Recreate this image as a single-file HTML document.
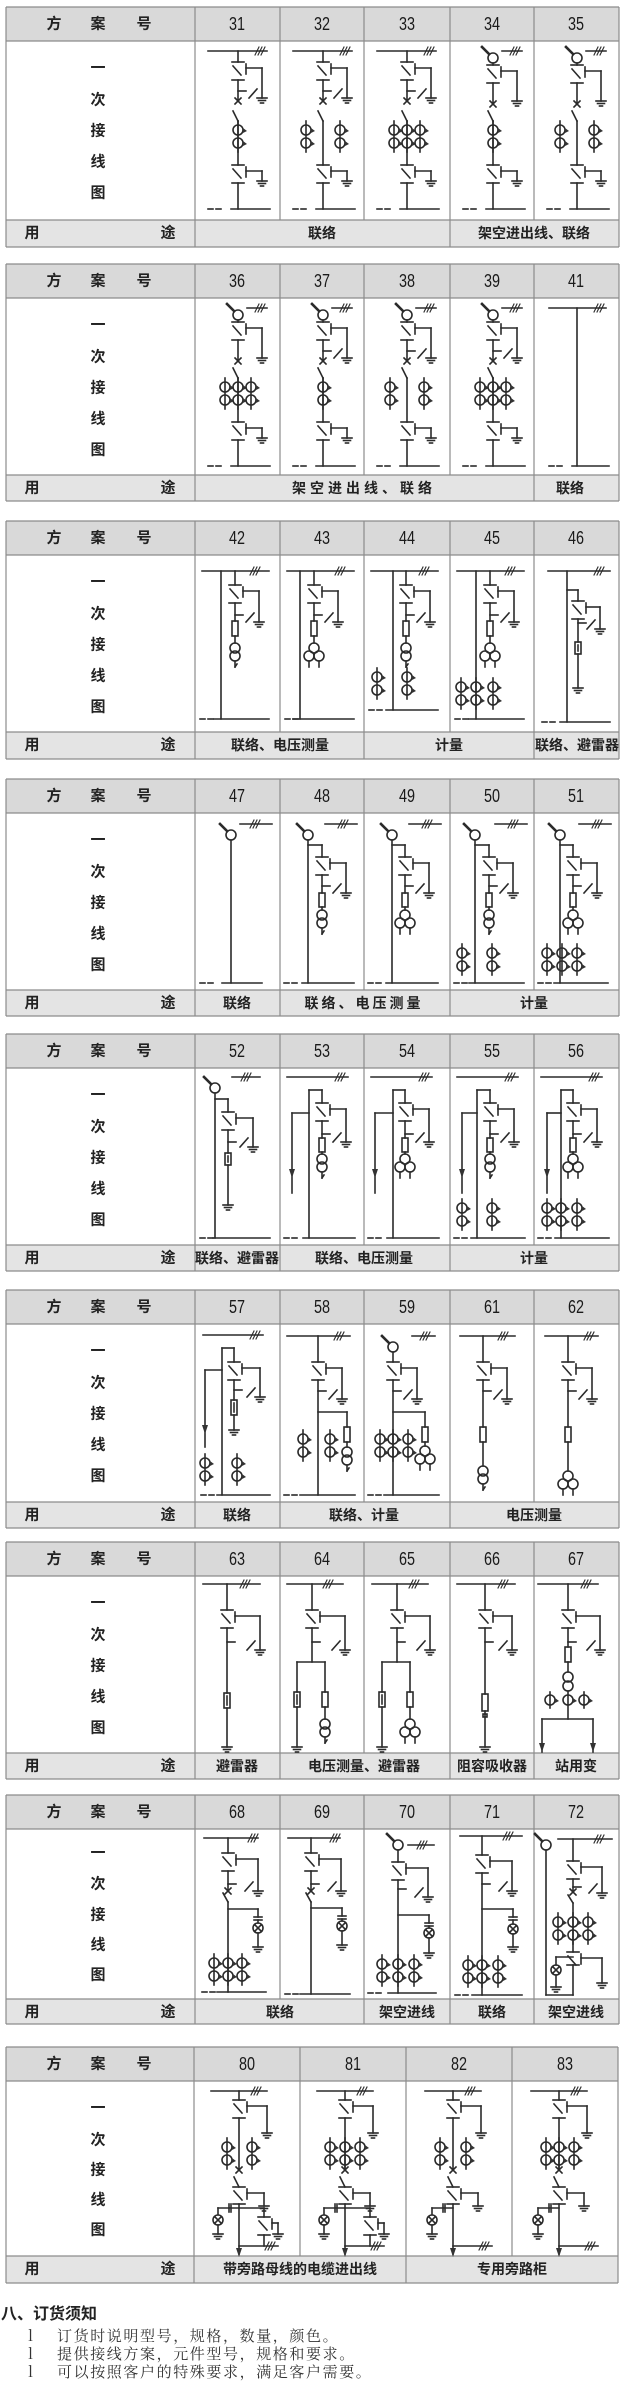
<!DOCTYPE html>
<html><head><meta charset="utf-8"><style>
body{margin:0;width:624px;height:2383px;position:relative;background:#fff;overflow:hidden;font-family:"Liberation Sans","Noto Sans CJK SC",sans-serif;}
.tb{position:absolute;left:0;width:624px;height:240px;z-index:1}
.t{position:absolute;transform:translate(-50%,-50%);white-space:nowrap;color:#222;font-weight:bold;font-size:15px;line-height:1}
.n{font-family:"Liberation Sans",sans-serif;font-size:18px;font-weight:normal;transform:translate(-50%,-50%) scaleX(.8);color:#1a1a1a}
.u{font-size:14px}
svg{position:absolute;left:0;top:0}
#bg{z-index:0}#dg{z-index:2}
.ft{position:absolute;font-family:"Noto Serif CJK SC","Noto Sans CJK SC",serif;color:#333;font-size:15px;letter-spacing:1.6px;line-height:1;white-space:nowrap}
</style></head><body>
<svg id="bg" width="624" height="2383"></svg>

<div class="tb" style="top:7px">
<b class="t" style="left:54px;top:17px">方</b><b class="t" style="left:98px;top:17px">案</b><b class="t" style="left:144px;top:17px">号</b>
<b class="t n" style="left:237px;top:17px">31</b><b class="t n" style="left:322px;top:17px">32</b><b class="t n" style="left:407px;top:17px">33</b><b class="t n" style="left:492px;top:17px">34</b><b class="t n" style="left:576px;top:17px">35</b>
<b class="t" style="left:98px;top:61px">一</b><b class="t" style="left:98px;top:93px">次</b><b class="t" style="left:98px;top:124px">接</b><b class="t" style="left:98px;top:155px">线</b><b class="t" style="left:98px;top:186px">图</b>
<b class="t" style="left:32px;top:226px">用</b><b class="t" style="left:168px;top:226px">途</b>
<b class="t u" style="left:322px;top:226px">联络</b><b class="t u" style="left:534px;top:226px">架空进出线、联络</b>
</div>

<div class="tb" style="top:264px">
<b class="t" style="left:54px;top:17px">方</b><b class="t" style="left:98px;top:17px">案</b><b class="t" style="left:144px;top:17px">号</b>
<b class="t n" style="left:237px;top:17px">36</b><b class="t n" style="left:322px;top:17px">37</b><b class="t n" style="left:407px;top:17px">38</b><b class="t n" style="left:492px;top:17px">39</b><b class="t n" style="left:576px;top:17px">41</b>
<b class="t" style="left:98px;top:61px">一</b><b class="t" style="left:98px;top:93px">次</b><b class="t" style="left:98px;top:124px">接</b><b class="t" style="left:98px;top:155px">线</b><b class="t" style="left:98px;top:186px">图</b>
<b class="t" style="left:32px;top:224px">用</b><b class="t" style="left:168px;top:224px">途</b>
<b class="t u" style="left:364px;top:224px;letter-spacing:4px">架空进出线、联络</b><b class="t u" style="left:570px;top:224px">联络</b>
</div>

<div class="tb" style="top:521px">
<b class="t" style="left:54px;top:17px">方</b><b class="t" style="left:98px;top:17px">案</b><b class="t" style="left:144px;top:17px">号</b>
<b class="t n" style="left:237px;top:17px">42</b><b class="t n" style="left:322px;top:17px">43</b><b class="t n" style="left:407px;top:17px">44</b><b class="t n" style="left:492px;top:17px">45</b><b class="t n" style="left:576px;top:17px">46</b>
<b class="t" style="left:98px;top:61px">一</b><b class="t" style="left:98px;top:93px">次</b><b class="t" style="left:98px;top:124px">接</b><b class="t" style="left:98px;top:155px">线</b><b class="t" style="left:98px;top:186px">图</b>
<b class="t" style="left:32px;top:224px">用</b><b class="t" style="left:168px;top:224px">途</b>
<b class="t u" style="left:280px;top:224px">联络、电压测量</b><b class="t u" style="left:449px;top:224px">计量</b><b class="t u" style="left:577px;top:224px">联络、避雷器</b>
</div>

<div class="tb" style="top:779px">
<b class="t" style="left:54px;top:17px">方</b><b class="t" style="left:98px;top:17px">案</b><b class="t" style="left:144px;top:17px">号</b>
<b class="t n" style="left:237px;top:17px">47</b><b class="t n" style="left:322px;top:17px">48</b><b class="t n" style="left:407px;top:17px">49</b><b class="t n" style="left:492px;top:17px">50</b><b class="t n" style="left:576px;top:17px">51</b>
<b class="t" style="left:98px;top:61px">一</b><b class="t" style="left:98px;top:93px">次</b><b class="t" style="left:98px;top:124px">接</b><b class="t" style="left:98px;top:155px">线</b><b class="t" style="left:98px;top:186px">图</b>
<b class="t" style="left:32px;top:224px">用</b><b class="t" style="left:168px;top:224px">途</b>
<b class="t u" style="left:237px;top:224px">联络</b><b class="t u" style="left:364px;top:224px;letter-spacing:3px">联络、电压测量</b><b class="t u" style="left:534px;top:224px">计量</b>
</div>

<div class="tb" style="top:1034px">
<b class="t" style="left:54px;top:17px">方</b><b class="t" style="left:98px;top:17px">案</b><b class="t" style="left:144px;top:17px">号</b>
<b class="t n" style="left:237px;top:17px">52</b><b class="t n" style="left:322px;top:17px">53</b><b class="t n" style="left:407px;top:17px">54</b><b class="t n" style="left:492px;top:17px">55</b><b class="t n" style="left:576px;top:17px">56</b>
<b class="t" style="left:98px;top:61px">一</b><b class="t" style="left:98px;top:93px">次</b><b class="t" style="left:98px;top:124px">接</b><b class="t" style="left:98px;top:155px">线</b><b class="t" style="left:98px;top:186px">图</b>
<b class="t" style="left:32px;top:224px">用</b><b class="t" style="left:168px;top:224px">途</b>
<b class="t u" style="left:237px;top:224px">联络、避雷器</b><b class="t u" style="left:364px;top:224px">联络、电压测量</b><b class="t u" style="left:534px;top:224px">计量</b>
</div>

<div class="tb" style="top:1290px">
<b class="t" style="left:54px;top:17px">方</b><b class="t" style="left:98px;top:17px">案</b><b class="t" style="left:144px;top:17px">号</b>
<b class="t n" style="left:237px;top:17px">57</b><b class="t n" style="left:322px;top:17px">58</b><b class="t n" style="left:407px;top:17px">59</b><b class="t n" style="left:492px;top:17px">61</b><b class="t n" style="left:576px;top:17px">62</b>
<b class="t" style="left:98px;top:61px">一</b><b class="t" style="left:98px;top:93px">次</b><b class="t" style="left:98px;top:124px">接</b><b class="t" style="left:98px;top:155px">线</b><b class="t" style="left:98px;top:186px">图</b>
<b class="t" style="left:32px;top:225px">用</b><b class="t" style="left:168px;top:225px">途</b>
<b class="t u" style="left:237px;top:225px">联络</b><b class="t u" style="left:364px;top:225px">联络、计量</b><b class="t u" style="left:534px;top:225px">电压测量</b>
</div>

<div class="tb" style="top:1542px">
<b class="t" style="left:54px;top:17px">方</b><b class="t" style="left:98px;top:17px">案</b><b class="t" style="left:144px;top:17px">号</b>
<b class="t n" style="left:237px;top:17px">63</b><b class="t n" style="left:322px;top:17px">64</b><b class="t n" style="left:407px;top:17px">65</b><b class="t n" style="left:492px;top:17px">66</b><b class="t n" style="left:576px;top:17px">67</b>
<b class="t" style="left:98px;top:61px">一</b><b class="t" style="left:98px;top:93px">次</b><b class="t" style="left:98px;top:124px">接</b><b class="t" style="left:98px;top:155px">线</b><b class="t" style="left:98px;top:186px">图</b>
<b class="t" style="left:32px;top:224px">用</b><b class="t" style="left:168px;top:224px">途</b>
<b class="t u" style="left:237px;top:224px">避雷器</b><b class="t u" style="left:364px;top:224px">电压测量、避雷器</b><b class="t u" style="left:492px;top:224px">阻容吸收器</b><b class="t u" style="left:576px;top:224px">站用变</b>
</div>

<div class="tb" style="top:1795px">
<b class="t" style="left:54px;top:17px">方</b><b class="t" style="left:98px;top:17px">案</b><b class="t" style="left:144px;top:17px">号</b>
<b class="t n" style="left:237px;top:17px">68</b><b class="t n" style="left:322px;top:17px">69</b><b class="t n" style="left:407px;top:17px">70</b><b class="t n" style="left:492px;top:17px">71</b><b class="t n" style="left:576px;top:17px">72</b>
<b class="t" style="left:98px;top:58px">一</b><b class="t" style="left:98px;top:89px">次</b><b class="t" style="left:98px;top:120px">接</b><b class="t" style="left:98px;top:150px">线</b><b class="t" style="left:98px;top:180px">图</b>
<b class="t" style="left:32px;top:217px">用</b><b class="t" style="left:168px;top:217px">途</b>
<b class="t u" style="left:280px;top:217px">联络</b><b class="t u" style="left:407px;top:217px">架空进线</b><b class="t u" style="left:492px;top:217px">联络</b><b class="t u" style="left:576px;top:217px">架空进线</b>
</div>

<div class="tb" style="top:2047px">
<b class="t" style="left:54px;top:17px">方</b><b class="t" style="left:98px;top:17px">案</b><b class="t" style="left:144px;top:17px">号</b>
<b class="t n" style="left:247px;top:17px">80</b><b class="t n" style="left:353px;top:17px">81</b><b class="t n" style="left:459px;top:17px">82</b><b class="t n" style="left:565px;top:17px">83</b>
<b class="t" style="left:98px;top:61px">一</b><b class="t" style="left:98px;top:93px">次</b><b class="t" style="left:98px;top:123px">接</b><b class="t" style="left:98px;top:153px">线</b><b class="t" style="left:98px;top:183px">图</b>
<b class="t" style="left:32px;top:222px">用</b><b class="t" style="left:168px;top:222px">途</b>
<b class="t u" style="left:300px;top:222px">带旁路母线的电缆进出线</b><b class="t u" style="left:512px;top:222px">专用旁路柜</b>
</div>

<div style="position:absolute;left:1px;top:2307px;font-size:16px;font-weight:bold;color:#222;font-family:'Liberation Sans','Noto Sans CJK SC',sans-serif;line-height:1;white-space:nowrap">八、订货须知</div>
<div class="ft" style="left:28px;top:2328px">l</div><div class="ft" style="left:57px;top:2328px">订货时说明型号，规格，数量，颜色。</div>
<div class="ft" style="left:28px;top:2346px">l</div><div class="ft" style="left:57px;top:2346px">提供接线方案，元件型号，规格和要求。</div>
<div class="ft" style="left:28px;top:2364px">l</div><div class="ft" style="left:57px;top:2364px">可以按照客户的特殊要求，满足客户需要。</div>

<svg id="dg" width="624" height="2383"></svg>

<script>
// ---------- table backgrounds ----------
(function(){
var X5=[6,195,280,364,450,534,619],X4=[6,194,300,406,512,618];
var T=[[7,41,220,247,X5,[1,4,6]],[264,298,475,501,X5,[1,5,6]],[521,555,732,759,X5,[1,3,5,6]],
[779,813,990,1016,X5,[1,2,4,6]],[1034,1068,1245,1271,X5,[1,2,4,6]],[1290,1324,1502,1528,X5,[1,2,4,6]],
[1542,1576,1753,1779,X5,[1,2,4,5,6]],[1795,1829,1999,2024,X5,[1,3,4,5,6]],[2047,2081,2256,2283,X4,[1,3,5]]];
var s='';
T.forEach(function(t){var a=t[0],h=t[1],d=t[2],u=t[3],X=t[4],M=t[5],l=X[0],r=X[X.length-1];
s+='<rect x="'+l+'" y="'+a+'" width="'+(r-l)+'" height="'+(h-a)+'" fill="#d9d9d9"/>';
s+='<rect x="'+l+'" y="'+d+'" width="'+(r-l)+'" height="'+(u-d)+'" fill="#e4e4e4"/>';
[a,h,d,u].forEach(function(y){s+='<line x1="'+l+'" x2="'+r+'" y1="'+y+'" y2="'+y+'" stroke="#8c8c8c" stroke-width="1.2"/>';});
X.forEach(function(x){s+='<line x1="'+x+'" x2="'+x+'" y1="'+a+'" y2="'+d+'" stroke="#8c8c8c" stroke-width="1.2"/>';});
[0].concat(M).forEach(function(i){var x=X[i];s+='<line x1="'+x+'" x2="'+x+'" y1="'+d+'" y2="'+u+'" stroke="#8c8c8c" stroke-width="1.2"/>';});
});
document.getElementById('bg').innerHTML=s;
})();

// ---------- diagrams ----------
var S='',OX=0,OY=0;
function L(a,b,c,d,w){S+='<line x1="'+(OX+a)+'" y1="'+(OY+b)+'" x2="'+(OX+c)+'" y2="'+(OY+d)+'"'+(w?' stroke-width="'+w+'"':'')+'/>';}
function C(x,y,r){S+='<circle cx="'+(OX+x)+'" cy="'+(OY+y)+'" r="'+r+'"/>';}
function R(x,y,w,h){S+='<rect x="'+(OX+x)+'" y="'+(OY+y)+'" width="'+w+'" height="'+h+'"/>';}
function P(p){S+='<polygon fill="#333" stroke="none" points="'+p.map(function(v,i){return v+(i%2?OY:OX);}).join(' ')+'"/>';}
function gnd(x,y){L(x-5,y,x+5,y);L(x-3.5,y+2.5,x+3.5,y+2.5);L(x-1.5,y+5,x+1.5,y+5);}
function hatch(x,y){for(var i=0;i<3;i++)L(x+i*3-2,y+4,x+i*3+2,y-4,1.1);}
function bus(a,b,y,h){L(a,y,b,y);hatch(h,y);}
function bot(a,b,y,s){L(a,y,a+5,y);L(a+8,y,a+13,y);L(s,y,b,y);}
function dsw(x,y,g,tr,y2){tr=tr||24;y2=y2||y+18;L(x-6,y,x+6,y);L(x-5,y+4,x+3,y+13);L(x-6,y2,x+6,y2);L(x+8,y+2,x+8,y+12);L(x+8,y+6,x+tr,y+6);L(x+tr,y+6,x+tr,g);gnd(x+tr,g);}
function esw(x,y,g,tr){tr=tr||24;L(x,y,x+8,y);L(x+tr-13,g,x+tr-5,g-9);}
function X(x,y){L(x-3,y-3,x+3,y+3);L(x-3,y+3,x+3,y-3);}
function sl(x,y,h){h=h||10;L(x-5,y,x,y+h);}
function ct(x,y){C(x,y,5);P([x+5,y-2,x+9,y+1,x+5,y+3]);}
function ctc(x,y){ct(x,y);ct(x,y+13);L(x,y-9,x,y+22);}
function head(x,y){C(x,y,5);L(x-4,y-4,x-11,y-11,2.6);}
function fuse(x,y,h){h=h||15;R(x-3,y,6,h);}
function arrester(x,y,h){h=h||15;R(x-3,y,6,h);L(x,y+3,x,y+h-3);}
function pt1(x,y){C(x,y+5,5);C(x,y+13,5);L(x,y+18,x,y+24);L(x,y+24,x+2,y+21);}
function pt3(x,y){C(x,y+5,5);C(x-5,y+13,5);C(x+5,y+13,5);L(x-5,y+18,x-5,y+24);L(x+5,y+18,x+5,y+24);}
function lamp(x,y){C(x,y,5);L(x-3.5,y-3.5,x+3.5,y+3.5);L(x-3.5,y+3.5,x+3.5,y-3.5);}
function cap(x,y){L(x-4,y,x+4,y);L(x-4,y+3,x+4,y+3);}
function arr(x,y){P([x-3,y-9,x+3,y-9,x,y]);}
function at(x,y,f){OX=x;OY=y;f();}

function A(top,es,ct){var m=43,d;
 if(top=='bus'){bus(13,72,10,62);L(m,10,m,21);d=21;}
 else{head(m,17);L(52,10,72,10);hatch(62,10);L(m,22,m,24);d=24;}
 dsw(m,d,d+36);if(es)esw(m,d+29,d+36);
 L(m,d+18,m,d+39);X(m,d+39);sl(m,70);L(m,80,m,124);
 if(ct==1)ctc(m,89);if(ct==2){ctc(26,89);ctc(60,89);}if(ct==3){ctc(30,89);ctc(43,89);ctc(56,89);}
 dsw(m,124,140);L(m,142,m,168);bot(13,75,168,36);}
// T1
at(195,41,function(){A('bus',1,1)});at(280,41,function(){A('bus',1,2)});at(364,41,function(){A('bus',1,3)});
at(450,41,function(){A('head',0,1)});at(534,41,function(){A('head',0,2)});
// T2
at(195,298,function(){A('head',0,3)});at(280,298,function(){A('head',1,1)});at(364,298,function(){A('head',1,2)});
at(450,298,function(){A('head',1,3)});at(534,298,function(){bus(15,72,10,62);L(43,10,43,168);bot(15,75,168,38);});
// T3
function B(v,m,p,cts,by){bus(7,74,16,57);L(v,16,v,by);L(m,16,m,30);dsw(m,30,67);esw(m,60,67);L(m,48,m,66);fuse(m,66);L(m,81,m,88);p(m,88);if(cts)cts.forEach(function(c){ctc(c[0],c[1]);});bot(5,74,by,v-7);}
at(195,555,function(){B(26,40,pt1,null,164)});
at(280,555,function(){B(20,34,pt3,null,164)});
at(364,555,function(){B(29,42,pt1,[[13,122],[43,122]],155)});
at(450,555,function(){B(26,40,pt3,[[11,132],[26,132],[43,132]],164)});
at(534,555,function(){bus(14,76,16,62);L(33,16,33,167);L(33,35,44,35);L(44,35,44,46);dsw(44,46,74,22);esw(44,68,74,22);L(44,64,44,87);arrester(44,87,12);L(44,99,44,133);gnd(44,133);bot(8,76,167,26);});
// T4
at(195,813,function(){head(36,22);L(45,11,77,11);hatch(57,11);L(36,27,36,170);bot(5,67,170,27);});
function Cc(h,m,p,cts){head(h,22);L(45,11,77,11);hatch(60,11);L(h,27,h,170);L(h,32,m,32);L(m,32,m,44);dsw(m,44,80);esw(m,73,80);L(m,62,m,80);fuse(m,80,14);L(m,94,m,97);p(m,97);if(cts)cts.forEach(function(c){ctc(c,140);});bot(4,74,170,h-6);}
at(280,813,function(){Cc(28,42,pt1)});at(364,813,function(){Cc(28,41,pt3)});
at(450,813,function(){Cc(25,39,pt1,[12,42])});at(534,813,function(){Cc(26,39,pt3,[13,28,43])});
// T5
at(195,1068,function(){head(20,20);L(37,9,65,9);hatch(48,9);L(20,25,20,170);L(20,31,33,31);L(33,31,33,44);dsw(33,44,79,25);esw(33,74,79,25);L(33,62,33,85);arrester(33,85,12);L(33,97,33,137);gnd(33,137);bot(5,75,170,18);});
function Dd(v,m,a,p,cts){bus(7,68,9,57);L(v,22,v,170);L(v,22,m,22);L(m,22,m,35);dsw(m,35,74);esw(m,66,74);L(m,53,m,70);fuse(m,70,14);L(m,84,m,86);p(m,86);L(a,45,v,45);L(a,45,a,125);arr(a,110);if(cts)cts.forEach(function(c){ctc(c,140);});bot(4,75,170,v-6);}
at(280,1068,function(){Dd(29,42,12,pt1)});at(364,1068,function(){Dd(29,41,11,pt3)});
at(450,1068,function(){Dd(27,40,12,pt1,[12,42])});at(534,1068,function(){Dd(27,39,13,pt3,[13,27,43])});
// T6
at(195,1324,function(){bus(8,68,11,57);L(27,24,27,171);L(27,24,39,24);L(39,24,39,38);dsw(39,38,73,26);esw(39,66,73,26);L(39,56,39,76);arrester(39,76,15);L(39,91,39,106);gnd(39,106);L(10,46,27,46);L(10,46,10,123);arr(10,110);ctc(10,139);ctc(42,139);bot(6,75,171,22);});
at(280,1324,function(){bus(7,70,12,56);L(38,12,38,38);dsw(38,38,75);esw(38,67,75);L(38,56,38,171);L(38,88,67,88);L(67,88,67,103);fuse(67,103,15);L(67,118,67,123);pt1(67,123);ctc(23,115);ctc(50,115);bot(4,75,171,20);});
at(364,1324,function(){head(29,23);L(48,12,71,12);hatch(58,12);L(29,28,29,38);dsw(29,38,75);esw(29,67,75);L(29,56,29,171);L(29,88,61,88);L(61,88,61,103);fuse(61,103,15);L(61,118,61,122);pt3(61,122);ctc(16,115);ctc(29,115);ctc(44,115);bot(4,75,171,20);});
at(450,1324,function(){bus(10,65,12,50);L(33,12,33,38);dsw(33,38,75);esw(33,67,75);L(33,56,33,103);fuse(33,103,15);L(33,118,33,142);pt1(33,142);});
at(534,1324,function(){bus(11,64,12,52);L(34,12,34,38);dsw(34,38,75);esw(34,67,75);L(34,56,34,103);fuse(34,103,15);L(34,118,34,147);pt3(34,147);});
// T7
at(195,1576,function(){bus(8,65,8,47);L(32,8,32,34);dsw(32,34,74,33);esw(32,66,74,33);L(32,52,32,117);arrester(32,117,15);L(32,132,32,171);gnd(32,171);});
at(280,1576,function(){bus(7,63,8,45);L(32,8,32,34);dsw(32,34,74,33);esw(32,66,74,33);L(32,52,32,86);L(17,86,45,86);L(17,86,17,116);arrester(17,116);L(17,131,17,171);gnd(17,171);L(45,86,45,116);fuse(45,116);L(45,131,45,143);pt1(45,143);});
at(364,1576,function(){bus(8,64,8,47);L(33,8,33,34);dsw(33,34,74,33);esw(33,66,74,33);L(33,52,33,86);L(18,86,46,86);L(18,86,18,116);arrester(18,116);L(18,131,18,171);gnd(18,171);L(46,86,46,116);fuse(46,116);L(46,131,46,143);pt3(46,143);});
at(450,1576,function(){bus(7,65,8,50);L(35,8,35,34);dsw(35,34,74,27);esw(35,66,74,27);L(35,52,35,118);fuse(35,118,17);R(33,138,4,3);L(35,135,35,171);gnd(35,171);});
at(534,1576,function(){bus(4,64,8,49);L(34,8,34,34);dsw(34,34,74,32);esw(34,66,74,32);L(34,52,34,71);fuse(34,71,15);L(34,86,34,96);C(34,101,5);C(34,110,5);L(34,115,34,143);
 ct(16,124);L(16,116,16,132);ct(34,124);ct(50,124);L(50,116,50,132);L(8,143,59,143);L(8,143,8,176);L(59,143,59,176);arr(8,176);arr(59,176);});
// T8
at(195,1829,function(){bus(9,63,9,55);L(33,9,33,24);dsw(33,24,62,30);esw(33,55,62,30);L(33,42,33,62);X(33,62);sl(33,64,9);L(33,73,33,163);L(33,80,63,80);L(63,80,63,88);cap(63,88);L(63,91,63,94);lamp(63,99);L(63,104,63,118);gnd(63,118);ctc(19,134);ctc(33,134);ctc(47,134);bot(7,71,163,22);});
at(280,1829,function(){bus(8,60,9,52);L(31,9,31,24);dsw(31,24,62,30);esw(31,55,62,30);L(31,42,31,62);X(31,62);sl(31,64,9);L(31,73,31,165);L(31,79,62,79);L(62,79,62,87);cap(62,87);L(62,90,62,92);lamp(62,97);L(62,102,62,116);gnd(62,116);bot(5,70,165,20);});
at(364,1829,function(){head(34,16);L(44,16,70,16);hatch(55,16);L(34,21,34,33);dsw(34,33,68,30);esw(34,60,68,30);L(34,51,34,164);L(34,86,65,86);L(65,86,65,94);cap(65,94);L(65,97,65,99);lamp(65,104);L(65,109,65,124);gnd(65,124);ctc(18,135);ctc(34,135);ctc(50,135);bot(4,72,164,24);});
at(450,1829,function(){bus(10,72,7,55);L(32,7,32,26);dsw(32,26,62,30);esw(32,55,62,30);L(32,44,32,166);L(32,80,63,80);L(63,80,63,88);cap(63,88);L(63,91,63,95);lamp(63,100);L(63,105,63,118);gnd(63,118);ctc(18,136);ctc(32,136);ctc(48,136);bot(5,72,166,22);});
at(534,1829,function(){head(12,16);L(12,21,12,166);L(12,166,39,166);bus(24,78,10,62);L(39,10,39,32);dsw(39,32,64,29);esw(39,58,64,29);L(39,50,39,63);X(39,63);sl(39,66,8);L(39,74,39,123);ctc(24,93);ctc(39,93);ctc(54,93);dsw(39,123,154,29,136);L(39,136,39,166);L(39,128,22,128);L(22,128,22,136);lamp(22,141);L(22,146,22,158);gnd(22,158);});
// T9
function H(m,cts,right){bus(m-28,m+28,10,m+14);L(m,10,m,19);dsw(m,19,52,28);L(m,37,m,89);cts.forEach(function(c){ctc(c,66);});X(m,89);sl(m,96,10);dsw(m,106,125,25,123);L(m,123,m,173);arr(m,176);
 L(m,127,m-21,127);L(m-21,127,m-21,133);lamp(m-21,139);L(m-21,144,m-21,153);gnd(m-21,153);L(m-10,123,m-10,131);L(m-8,123,m-8,131);
 L(m,165,m+39,165);hatch(m+28,165);
 if(right){L(m,127,m+25,127);L(m+25,127,m+25,136);dsw(m+25,136,153,14);L(m+25,154,m+25,165);}}
at(194,2081,function(){H(45,[33,58],1)});at(300,2081,function(){H(45,[30,45,60],1)});
at(406,2081,function(){H(47,[34,60],0)});at(512,2081,function(){H(47,[34,47,62],0)});
document.getElementById('dg').innerHTML='<g stroke="#2a2a2a" stroke-width="1.6" fill="none" stroke-linecap="square">'+S+'</g>';
</script>
</body></html>
